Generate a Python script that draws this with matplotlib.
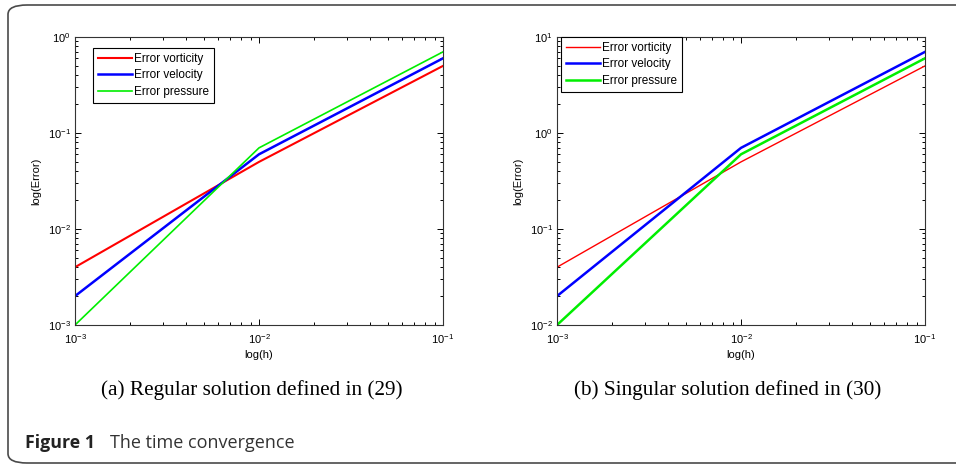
import matplotlib
matplotlib.use('Agg')
import matplotlib.pyplot as plt
from matplotlib.patches import FancyBboxPatch

plt.rcParams['font.family'] = ['Liberation Sans', 'DejaVu Sans']
plt.rcParams['mathtext.fontset'] = 'custom'
plt.rcParams['mathtext.rm'] = 'Liberation Sans'
plt.rcParams['axes.unicode_minus'] = False

# step sizes
h = [1e-3, 1e-2, 1e-1]

# (a) regular solution
reg_vorticity = [0.004, 0.05, 0.5]
reg_velocity = [0.002, 0.06, 0.6]
reg_pressure = [0.001, 0.07, 0.7]

# (b) singular solution
sing_vorticity = [0.04, 0.5, 5.0]
sing_velocity = [0.02, 0.7, 7.0]
sing_pressure = [0.01, 0.6, 6.0]

labels = ['Error vorticity', 'Error velocity', 'Error pressure']
captions = ['(a) Regular solution defined in (29)', '(b) Singular solution defined in (30)']

fig = plt.figure(figsize=(9.56, 4.67), dpi=100)

# outer frame of the figure panel
frame = FancyBboxPatch((8 / 956, 4 / 467), 1.2, 458 / 467,
                       boxstyle='round,pad=0,rounding_size=0.02',
                       transform=fig.transFigure, fill=False,
                       edgecolor='#4a4a4a', linewidth=1.2, clip_on=False)
fig.patches.append(frame)

AX_W, AX_H = 368, 288


def draw(ax, vort, vel, pres, ylim, widths, leg_off):
    ax.loglog(h, vort, color='#ff0000', lw=widths[0], label=labels[0])
    ax.loglog(h, vel, color='#0000ff', lw=widths[1], label=labels[1])
    ax.loglog(h, pres, color='#00ee00', lw=widths[2], label=labels[2])
    ax.set_xlim(1e-3, 1e-1)
    ax.set_ylim(*ylim)
    ax.tick_params(which='both', direction='in', top=True, right=True,
                   labelsize=8, width=0.7)
    ax.tick_params(axis='x', pad=5)
    ax.tick_params(axis='y', pad=3)
    ax.tick_params(which='major', length=4)
    ax.tick_params(which='minor', length=2)
    for s in ax.spines.values():
        s.set_linewidth(0.8)
        s.set_color('#333333')
    ax.set_xlabel('log(h)', fontsize=8, labelpad=3)
    ax.set_ylabel('log(Error)', fontsize=8, labelpad=5)
    leg = ax.legend(loc='upper left', fontsize=8.5, frameon=True, fancybox=False,
                    edgecolor='black', framealpha=1, handlelength=2.9,
                    borderpad=0.4, labelspacing=0.4, handletextpad=0.2,
                    borderaxespad=0,
                    bbox_to_anchor=(leg_off[0] / AX_W, 1 - leg_off[1] / AX_H))
    leg.get_frame().set_linewidth(0.8)


ax1 = fig.add_axes([75 / 956, 1 - 325 / 467, AX_W / 956, AX_H / 467])
draw(ax1, reg_vorticity, reg_velocity, reg_pressure, (1e-3, 1e0), (1.5, 1.8, 1.2), (18, 11))

ax2 = fig.add_axes([557 / 956, 1 - 325 / 467, AX_W / 956, AX_H / 467])
draw(ax2, sing_vorticity, sing_velocity, sing_pressure, (1e-2, 1e1), (1.0, 1.8, 1.8), (4, 0))

fig.text(252 / 956, 1 - 390 / 467, captions[0], family='Liberation Serif',
         fontsize=15.3, ha='center', va='center', color='black')
fig.text(728 / 956, 1 - 390 / 467, captions[1], family='Liberation Serif',
         fontsize=15.3, ha='center', va='center', color='black')

fig.text(25 / 956, 1 - 443 / 467, 'Figure 1', family='Open Sans', fontweight='bold',
         fontsize=12.8, ha='left', va='center', color='#222222')
fig.text(110 / 956, 1 - 443 / 467, 'The time convergence', family='Open Sans',
         fontsize=13, ha='left', va='center', color='#333333')

fig.savefig('out.png', dpi=100)
